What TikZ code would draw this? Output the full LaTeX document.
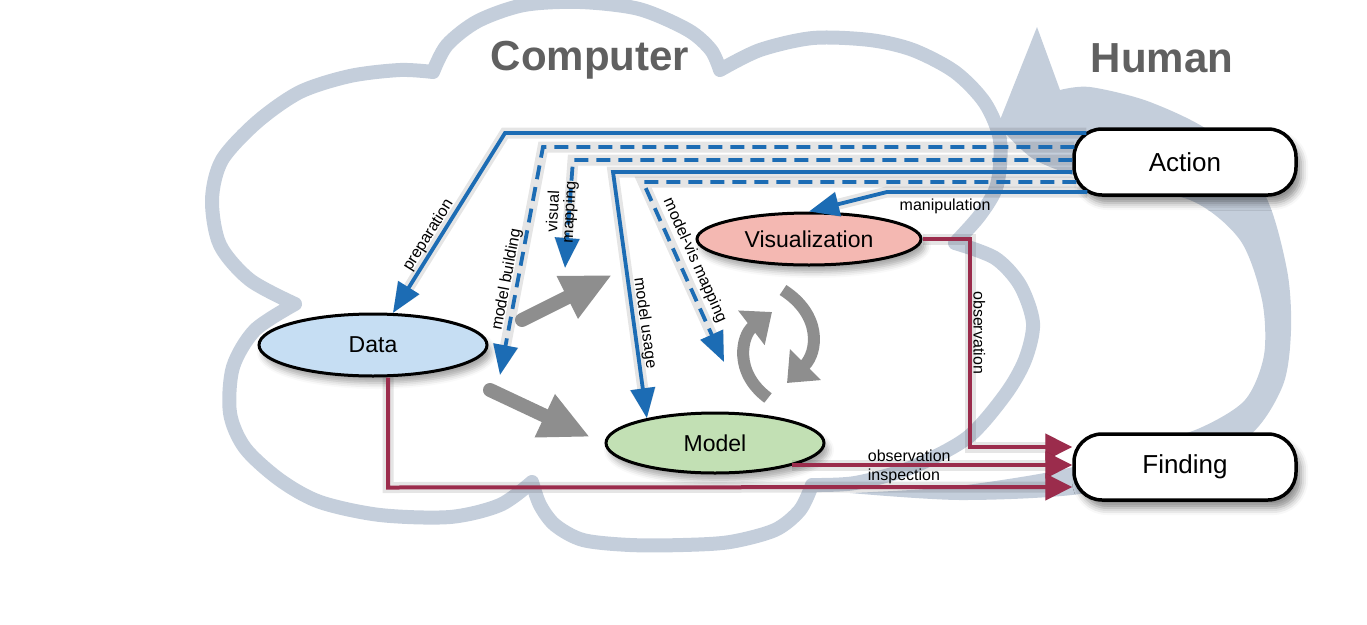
\documentclass[tikz,border=0pt]{standalone}
\usepackage{fontspec}
\setmainfont{Liberation Sans}
\usetikzlibrary{arrows.meta,shapes.geometric,calc,shadows.blur}
\definecolor{cloudc}{HTML}{C4CEDB}
\definecolor{bluec}{HTML}{1C6CB4}
\definecolor{redc}{HTML}{9B2C4C}
\definecolor{datac}{HTML}{C6DEF3}
\definecolor{visc}{HTML}{F4B8B2}
\definecolor{modelc}{HTML}{C2E0B4}
\definecolor{titlec}{HTML}{606060}
\definecolor{fatc}{HTML}{8E8E8E}
\tikzset{
  endbox/.style={draw=black, line width=3.5pt, fill=white, rounded corners=28pt,
    minimum width=222pt, minimum height=66pt, font=\fontsize{26}{30}\selectfont,
    blur shadow={shadow xshift=5pt, shadow yshift=-8pt, shadow blur radius=7pt, shadow opacity=45}},
  ell/.style={ellipse, draw=black, line width=3pt, inner sep=0pt,
    font=\fontsize{23}{26}\selectfont,
    blur shadow={shadow xshift=4pt, shadow yshift=-7pt, shadow blur radius=6pt, shadow opacity=35}},
  titlef/.style={text=titlec, font=\fontsize{42}{46}\selectfont\bfseries},
  lbl/.style={font=\fontsize{16}{16}\selectfont, inner sep=1.5pt},
  lineshadow/.style={preaction={draw=black, opacity=0.10, line width=11pt, solid}},
  bline/.style={draw=bluec, line width=3.8pt, -{Triangle[length=30pt,width=24pt]}, lineshadow},
  bdash/.style={dash pattern=on 14pt off 8pt},
  rline/.style={draw=redc, line width=4pt, -{Triangle[length=27pt,width=26pt]}, lineshadow},
  fatarrow/.style={draw=fatc, line width=14pt, line cap=round, -{Triangle[length=50pt,width=44pt]}},
  curvarrow/.style={draw=fatc, line width=12pt, -{Triangle[length=26pt,width=42pt]}},
}
\begin{document}
\begin{tikzpicture}[x=1pt,y=-1pt]
\useasboundingbox (0,0) rectangle (1367,624);

% ---------- background: cloud and human cycle ----------
\draw[cloudc, line width=14pt, line cap=round, line join=round]
  plot[smooth] coordinates {(295,304) (250,280) (220,245) (212,200) (222,160) (257,122) (300,92) (350,76) (400,70) (433,72)}
  plot[smooth] coordinates {(433,72) (447,45) (478,21) (524,5) (580,2) (639,9) (688,30) (711,50) (720,70)}
  plot[smooth] coordinates {(720,70) (760,50) (813,38) (870,40) (913,50) (955,72) (985,103) (1000,140) (997,185) (980,215) (955,243)}
  plot[smooth] coordinates {(955,243) (995,258) (1020,285) (1033,323) (1025,360) (1005,395) (967,438) (910,468) (855,483) (812,485)}
  plot[smooth] coordinates {(812,485) (800,510) (775,530) (730,542) (683,545) (630,545) (583,540) (555,525) (540,505) (532,482)}
  plot[smooth] coordinates {(532,482) (500,505) (450,517) (380,515) (320,502) (280,480) (245,448) (230,413) (233,367) (255,330) (295,304)};
\fill[cloudc]
  plot[smooth] coordinates {(850,493) (950,487) (1060,470) (1140,447) (1200,428) (1245,400) (1264,355) (1262,300) (1240,240) (1190,200) (1100,183) (1035,160) (998,125)}
  -- (1037,27) -- (1060,90)
  -- plot[smooth] coordinates {(1060,90) (1090,87) (1150,102) (1215,135) (1265,195) (1287,270) (1291,330) (1283,385) (1250,435) (1180,470) (1080,494) (960,500) (850,493)}
  -- cycle;

% ---------- titles ----------
\node[titlef] (tcomp) at (590,60) {Computer};
\node[titlef] (thum) at (1162,58) {Human};

% ---------- nodes ----------
\node[endbox] (action) at (1185,162) {Action};
\node[endbox] (finding) at (1185,467) {Finding};
\node[ell, fill=visc, minimum width=224pt, minimum height=52pt] (vis) at (809,239) {Visualization};
\node[ell, fill=datac, minimum width=228pt, minimum height=62pt] (data) at (373,345) {Data};
\node[ell, fill=modelc, minimum width=218pt, minimum height=60pt] (model) at (715,443) {Model};

% ---------- free ends ----------
\coordinate (mbend) at (500,375);
\coordinate (vmend) at (565,268);
\coordinate (mvend) at (724,362);

% ---------- blue (action) connectors ----------
\draw[bline] ($(action.west)+(14,-29)$) -- (505,133)
  -- node[lbl, sloped, above, pos=0.6] (lprep) {preparation} (data);
\draw[bline, bdash] ($(action.west)+(2,-15)$) -- (543,147)
  -- node[lbl, sloped, above, pos=0.59] (lmb) {model building} (mbend);
\draw[bline, bdash] ($(action.west)+(0,-2)$) -- (573,160) -- (vmend);
\node[lbl, rotate=87, align=center] (lvm) at (562,212) {visual\\mapping};
\draw[bline] ($(action.west)+(0,10)$) -- (613,172)
  -- node[lbl, sloped, above, pos=0.62] (lmu) {model usage} (model.160);
\draw[bline, bdash] ($(action.west)+(4,20)$) -- (643,182)
  -- node[lbl, sloped, above=4pt, pos=0.47] (lmv) {model-vis mapping} (mvend);
\draw[bline] ($(action.west)+(15,30)$) -- (887,192) -- (vis.north);
\node[lbl, anchor=north west] (lman) at (898,197) {manipulation};

% ---------- red (finding) connectors ----------
\coordinate (obsc) at (970,447);
\draw[rline] (vis.east) -- (vis.east -| obsc)
  -- node[lbl, sloped, above, pos=0.45] (lobs) {observation} (obsc)
  -- ($(finding.west)+(0,-20)$);
\draw[rline] ($(model.center)+(77,22)$)
  -- node[lbl, anchor=south west, pos=0.26, inner sep=1pt] (lobs2) {observation}
  ($(finding.west)+(0,-2)$);
\draw[rline] ($(data.south)+(15,0)$) -- ++(0,110)
  -- node[lbl, anchor=south west, pos=0.697, inner sep=1pt] (linsp) {inspection}
  ($(finding.west)+(0,20)$);

% ---------- gray process arrows ----------
\coordinate (fa1s) at (522,320); \coordinate (fa1e) at (612,275);
\coordinate (fa2s) at (490,390); \coordinate (fa2e) at (590,437);
\draw[fatarrow] (fa1s) -- (fa1e);
\draw[fatarrow] (fa2s) -- (fa2e);
\coordinate (ca1) at (768,398); \coordinate (ca2) at (772,312);
\coordinate (cb1) at (783,290); \coordinate (cb2) at (787,383);
\draw[curvarrow] (ca1) .. controls (733,372) and (742,335) .. (ca2);
\draw[curvarrow] (cb1) .. controls (822,315) and (818,352) .. (cb2);
\end{tikzpicture}
\end{document}
